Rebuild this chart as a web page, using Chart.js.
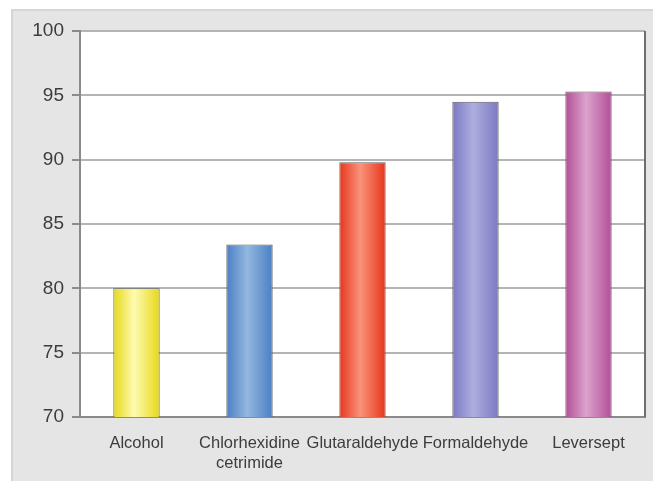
<!DOCTYPE html>
<html>
<head>
<meta charset="utf-8">
<script src="https://cdn.jsdelivr.net/npm/chart.js@4/dist/chart.umd.min.js"></script>
<style>
  html, body { margin: 0; padding: 0; background: #ffffff; }
  #wrap { width: 653px; height: 481px; position: relative; }
</style>
</head>
<body>
<div id="wrap"><canvas id="c" width="653" height="481"></canvas></div>
<script>
// Disinfectant efficacy (%)
const categories = [["Alcohol"], ["Chlorhexidine", "cetrimide"], ["Glutaraldehyde"], ["Formaldehyde"], ["Leversept"]];
const values = [80, 83.4, 89.8, 94.5, 95.3];
const yTicks = [70, 75, 80, 85, 90, 95, 100];

// edge / highlight colours of each cylindrical bar
const edgeColors = ["#e6d81a", "#4a7fc4", "#e8351c", "#7b78c2", "#b24f98"];
const lightColors = ["#fffbb0", "#93b8e0", "#f8937a", "#aeaee0", "#dca2cc"];

const BAR_PCT = 0.41;

function barGradient(ctx) {
  const chart = ctx.chart;
  const i = ctx.dataIndex;
  if (!chart.chartArea || i === undefined) return edgeColors[i || 0];
  const xs = chart.scales.x;
  const cx = xs.getPixelForValue(i);
  const w = (xs.width / categories.length) * BAR_PCT;
  const g = chart.ctx.createLinearGradient(cx - w / 2, 0, cx + w / 2, 0);
  g.addColorStop(0, edgeColors[i]);
  g.addColorStop(0.45, lightColors[i]);
  g.addColorStop(1, edgeColors[i]);
  return g;
}

const panelPlugin = {
  id: 'panel',
  beforeDraw(chart) {
    const c = chart.ctx;
    const a = chart.chartArea;
    c.save();
    c.fillStyle = '#ffffff';
    c.fillRect(0, 0, chart.width, chart.height);
    c.fillStyle = '#e5e5e5';
    c.fillRect(11, 9, chart.width - 11, chart.height - 9);
    c.fillStyle = '#d6d6d6';
    c.fillRect(11, 9, chart.width - 11, 2);
    c.fillRect(11, 9, 2, chart.height - 9);
    c.fillStyle = '#ffffff';
    c.fillRect(a.left, a.top, a.right - a.left, a.bottom - a.top);
    c.restore();
  },
  afterDraw(chart) {
    const c = chart.ctx;
    const a = chart.chartArea;
    c.save();
    c.strokeStyle = '#6e6e6e';
    c.lineWidth = 2;
    c.beginPath();
    c.moveTo(a.right, a.top);
    c.lineTo(a.right, a.bottom);
    c.stroke();
    c.restore();
  }
};

new Chart(document.getElementById('c'), {
  type: 'bar',
  data: {
    labels: categories,
    datasets: [{
      data: values,
      backgroundColor: barGradient,
      borderColor: '#5c5c5c',
      borderWidth: 1,
      borderSkipped: false,
      barPercentage: BAR_PCT,
      categoryPercentage: 1.0
    }]
  },
  options: {
    responsive: false,
    animation: false,
    devicePixelRatio: 1,
    layout: { padding: { left: 0, top: 31, right: 8, bottom: 0 } },
    plugins: { legend: { display: false }, tooltip: { enabled: false } },
    scales: {
      x: {
        grid: { display: false },
        border: { display: true, color: '#8a8a8a', width: 2 },
        ticks: {
          color: '#3c3c3c',
          font: { family: 'Liberation Sans, Arial, sans-serif', size: 16.5 },
          padding: 9,
          maxRotation: 0,
          autoSkip: false
        },
        afterFit(scale) { scale.height = 64; }
      },
      y: {
        min: 70,
        max: 100,
        afterBuildTicks(scale) { scale.ticks = yTicks.map(v => ({ value: v })); },
        grid: { color: '#b4b4b4', tickColor: '#8a8a8a', tickLength: 8, lineWidth: 2 },
        border: { display: true, color: '#8a8a8a', width: 2 },
        ticks: {
          color: '#3c3c3c',
          font: { family: 'Liberation Sans, Arial, sans-serif', size: 19 },
          padding: 8
        },
        afterFit(scale) { scale.width = 80; }
      }
    }
  },
  plugins: [panelPlugin]
});
</script>
</body>
</html>
